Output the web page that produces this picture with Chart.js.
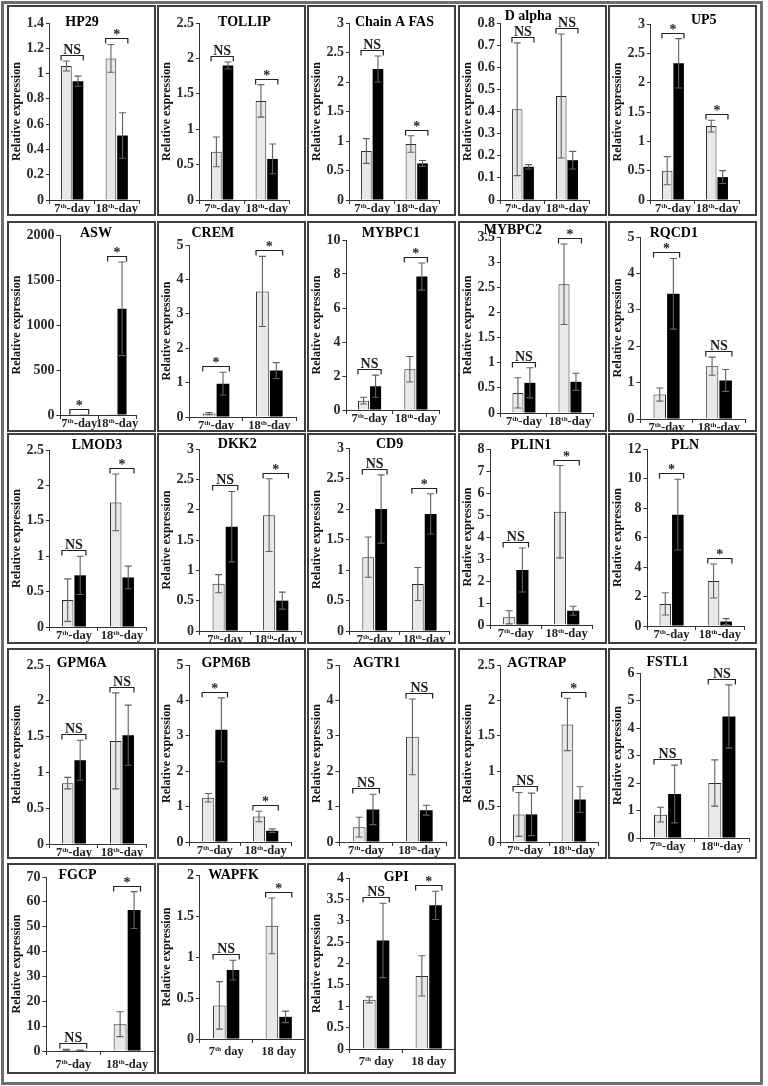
<!DOCTYPE html>
<html><head><meta charset="utf-8">
<script src="https://cdn.jsdelivr.net/npm/chart.js@4.4.0/dist/chart.umd.min.js"></script>
<style>
html,body{margin:0;padding:0;background:#fff;}
#fig{position:relative;width:768px;height:1086px;overflow:hidden;background:#fff;}
.frame{position:absolute;left:1px;top:1px;width:762px;height:1084px;border:3px solid #6e6e6e;box-sizing:border-box;}
.panel{position:absolute;border:2px solid #3e3e3e;box-sizing:border-box;pointer-events:none;}
canvas{position:absolute;}
</style></head><body><div id="fig"><div class="frame"></div></div>
<script>
// ---------- DATA ----------
const genes = ['HP29','TOLLIP','Chain A FAS','D alpha','UP5',
  'ASW','CREM','MYBPC1','MYBPC2','RQCD1',
  'LMOD3','DKK2','CD9','PLIN1','PLN',
  'GPM6A','GPM6B','AGTR1','AGTRAP','FSTL1',
  'FGCP','WAPFK','GPI'];
const dayLabelsA = ['7th-day','18th-day'];
const dayLabelsB = ['7th day','18 day'];
const yLabel = 'Relative expression';
// light (grey) bars: [7th day, 18th day]
const lightMean = [[1.06,1.12],[0.68,1.40],[0.83,0.95],[0.41,0.47],[0.50,1.26],
  [1,1],[0.10,3.65],[0.55,2.40],[0.40,2.56],[0.67,1.45],
  [0.38,1.76],[0.78,1.91],[1.21,0.77],[0.35,5.15],[1.50,3.05],
  [0.85,1.44],[1.25,0.72],[0.42,2.97],[0.39,1.66],[0.85,2.00],
  [0.5,10.8],[0.41,1.38],[1.15,1.71]];
const lightErr = [[0.04,0.11],[0.21,0.23],[0.21,0.14],[0.30,0.28],[0.24,0.10],
  [0,0],[0.03,1.02],[0.20,0.75],[0.30,0.80],[0.18,0.25],
  [0.30,0.40],[0.15,0.60],[0.33,0.27],[0.30,2.10],[0.75,1.15],
  [0.08,0.67],[0.12,0.15],[0.28,1.07],[0.31,0.37],[0.27,0.84],
  [0.2,5.0],[0.29,0.34],[0.07,0.47]];
// dark (black) bars
const darkMean = [[0.94,0.51],[1.90,0.58],[2.22,0.62],[0.15,0.18],[2.33,0.39],
  [2,1180],[0.97,1.35],[1.40,7.85],[0.60,0.62],[3.44,1.06],
  [0.73,0.70],[1.72,0.50],[2.00,1.92],[2.50,0.65],[7.55,0.30],
  [1.17,1.52],[3.17,0.32],[0.92,0.90],[0.39,0.60],[1.60,4.42],
  [0.3,56.7],[0.84,0.27],[2.54,3.36]];
const darkErr = [[0.04,0.18],[0.05,0.21],[0.22,0.05],[0.01,0.04],[0.42,0.11],
  [0,520],[0.33,0.23],[0.65,0.80],[0.30,0.17],[0.97,0.30],
  [0.27,0.16],[0.58,0.14],[0.56,0.33],[1.00,0.20],[2.40,0.20],
  [0.28,0.42],[0.90,0.05],[0.43,0.14],[0.30,0.18],[1.05,1.15],
  [0.1,7.4],[0.12,0.07],[0.87,0.33]];
const signif = [['NS','*'],['NS','*'],['NS','*'],['NS','NS'],['*','*'],
  ['*','*'],['*','*'],['NS','*'],['NS','*'],['*','NS'],
  ['NS','*'],['NS','*'],['NS','*'],['NS','*'],['*','*'],
  ['NS','NS'],['*','*'],['NS','NS'],['NS','*'],['NS','NS'],
  ['NS','*'],['NS','*'],['NS','*']];
const yMax  = [1.4,2.5,3,0.8,3, 2000,5,10,3.5,5, 2.5,3,3,8,12, 2.5,5,5,2.5,6, 70,2,4];
const yStep = [0.2,0.5,0.5,0.1,0.5, 500,1,2,0.5,1, 0.5,0.5,0.5,1,2, 0.5,1,1,0.5,1, 10,0.5,0.5];

// ---------- LAYOUT / STYLE ----------
const colX = [7,157,307,458,608];
const rowY = [5,221,433,648,863];
const PW = 149, PH = 211;
// per panel: top pad, right pad, x-axis height, label dy, title x fraction, title y
const lay = [
  [18,17,16,9,0.36,17],[18,17,16,9,0.50,17],[18,17,16,9,0.50,17],[18,18,16,9,0.31,11],[19,18,16,9,0.60,15],
  [14,20,17,9,0.47,12],[24,10,15,9,0.22,12],[19,17,22,9,0.48,12],[16,14,19,9,0.13,9],[16,12,13,9,0.32,12],
  [17,10,17,9,0.49,12],[16,5,13,9,0.37,11],[15,7,13,9,0.40,11],[16,15,19,9,0.40,12],[16,13,18,9,0.39,12],
  [17,10,15,9,0.33,15],[17,15,17,9,0.36,15],[17,10,17,9,0.35,15],[17,9,17,9,0.37,15],[25,8,21,9,0.25,14],
  [14,2,23,14,0.29,12],[12,1,35,13,0.32,12],[15,1,25,13,0.44,14]
];
const FAM = '"Liberation Serif","Times New Roman",serif';
const TXT = '#1e1e1e';

const extras = {
  id: 'extras',
  afterDatasetsDraw(chart, args, opts) {
    const p = opts.idx;
    const ctx = chart.ctx, ys = chart.scales.y, ca = chart.chartArea;
    const means = [lightMean[p], darkMean[p]], errs = [lightErr[p], darkErr[p]];
    ctx.save();
    const tops = [ca.bottom, ca.bottom];
    ctx.strokeStyle = '#606060'; ctx.lineWidth = 1.1;
    for (let d = 0; d < 2; d++) {
      chart.getDatasetMeta(d).data.forEach((bar, j) => {
        const m = means[d][j], e = errs[d][j];
        const yt = ys.getPixelForValue(m + e), yb = ys.getPixelForValue(Math.max(m - e, 0));
        tops[j] = Math.min(tops[j], yt, bar.y);
        if (e <= 0) return;
        const cw = 3.5;
        ctx.beginPath();
        ctx.moveTo(bar.x, yt); ctx.lineTo(bar.x, yb);
        ctx.moveTo(bar.x - cw, yt); ctx.lineTo(bar.x + cw, yt);
        ctx.moveTo(bar.x - cw, yb); ctx.lineTo(bar.x + cw, yb);
        ctx.stroke();
      });
    }
    // significance brackets
    const b0 = chart.getDatasetMeta(0).data, b1 = chart.getDatasetMeta(1).data;
    ctx.strokeStyle = '#222'; ctx.lineWidth = 1.2; ctx.fillStyle = TXT;
    ctx.textAlign = 'center'; ctx.textBaseline = 'alphabetic';
    for (let j = 0; j < 2; j++) {
      const x0 = b0[j].x - b0[j].width / 2, x1 = b1[j].x + b1[j].width / 2;
      const yl = Math.round(tops[j] - 6) + 0.5;
      ctx.beginPath();
      ctx.moveTo(x0, yl + 5); ctx.lineTo(x0, yl); ctx.lineTo(x1, yl); ctx.lineTo(x1, yl + 5);
      ctx.stroke();
      ctx.font = 'bold 14px ' + FAM;
      ctx.fillText(signif[p][j], (x0 + x1) / 2, yl - (signif[p][j] === '*' ? 0 : 1.5));
    }
    ctx.restore();
  },
  afterDraw(chart, args, opts) {
    const p = opts.idx, L = lay[p];
    const ctx = chart.ctx, xs = chart.scales.x, ca = chart.chartArea;
    ctx.save();
    ctx.fillStyle = '#000';
    ctx.font = 'bold 14px ' + FAM;
    ctx.textAlign = 'center'; ctx.textBaseline = 'middle';
    ctx.fillText(genes[p], ca.left + L[4] * (ca.right - ca.left), L[5]);
    // x category labels with superscripts
    ctx.textAlign = 'left'; ctx.textBaseline = 'middle'; ctx.fillStyle = TXT;
    chart.data.labels.forEach((lab, j) => {
      const mm = lab.match(/^(\d+)(th)?(.*)$/);
      const parts = mm ? [mm[1], mm[2] || '', mm[3]] : [lab, '', ''];
      const big = 'bold 12.5px ' + FAM, sml = 'bold 7px ' + FAM;
      ctx.font = big; const w0 = ctx.measureText(parts[0]).width, w2 = ctx.measureText(parts[2]).width;
      ctx.font = sml; const w1 = ctx.measureText(parts[1]).width;
      let x = xs.getPixelForValue(j) - (w0 + w1 + w2) / 2;
      const y = ca.bottom + L[3];
      ctx.font = big; ctx.fillText(parts[0], x, y); x += w0;
      ctx.font = sml; ctx.fillText(parts[1], x, y - 3); x += w1;
      ctx.font = big; ctx.fillText(parts[2], x, y);
    });
    ctx.restore();
  }
};

const fig = document.getElementById('fig');
genes.forEach((g, i) => {
  const r = Math.floor(i / 5), c = i % 5, L = lay[i];
  const cv = document.createElement('canvas');
  cv.width = PW; cv.height = PH;
  cv.style.left = colX[c] + 'px'; cv.style.top = rowY[r] + 'px';
  cv.style.width = PW + 'px'; cv.style.height = PH + 'px';
  fig.appendChild(cv);
  const pd = document.createElement('div');
  pd.className = 'panel';
  pd.style.left = colX[c] + 'px'; pd.style.top = rowY[r] + 'px';
  pd.style.width = PW + 'px'; pd.style.height = PH + 'px';
  fig.appendChild(pd);
  new Chart(cv, {
    type: 'bar',
    data: {
      labels: i >= 21 ? dayLabelsB : dayLabelsA,
      datasets: [
        { data: lightMean[i], backgroundColor: '#e9e7ea', borderColor: '#2a2a2a', borderWidth: 1,
          categoryPercentage: 0.52, barPercentage: 0.92 },
        { data: darkMean[i], backgroundColor: '#000', borderColor: '#000', borderWidth: 0,
          categoryPercentage: 0.52, barPercentage: 0.92 }
      ]
    },
    options: {
      responsive: false, animation: false, devicePixelRatio: window.devicePixelRatio || 1,
      layout: { padding: { top: L[0], right: L[1], left: 3, bottom: 0 } },
      plugins: { legend: { display: false }, tooltip: { enabled: false }, title: { display: false },
        extras: { idx: i } },
      scales: {
        x: {
          type: 'category', offset: true,
          grid: { display: true, drawOnChartArea: false, drawTicks: true, tickLength: 4, color: '#333', offset: true },
          border: { display: true, color: '#333', width: 1 },
          ticks: { display: false },
          afterFit(s) { s.height = L[2]; }
        },
        y: {
          min: 0, max: yMax[i],
          ticks: { stepSize: yStep[i], color: '#2a2a2a', padding: 2,
            font: { family: FAM, size: 14, weight: 'bold' },
            callback: v => String(+(+v).toFixed(3)) },
          grid: { drawOnChartArea: false, tickLength: 4, color: '#333' },
          border: { display: true, color: '#333', width: 1 },
          title: { display: true, text: yLabel, color: '#111',
            font: { family: FAM, size: 12, weight: 'bold' }, padding: { top: 0, bottom: 0 } }
        }
      }
    },
    plugins: [extras]
  });
});
</script>
</body></html>
